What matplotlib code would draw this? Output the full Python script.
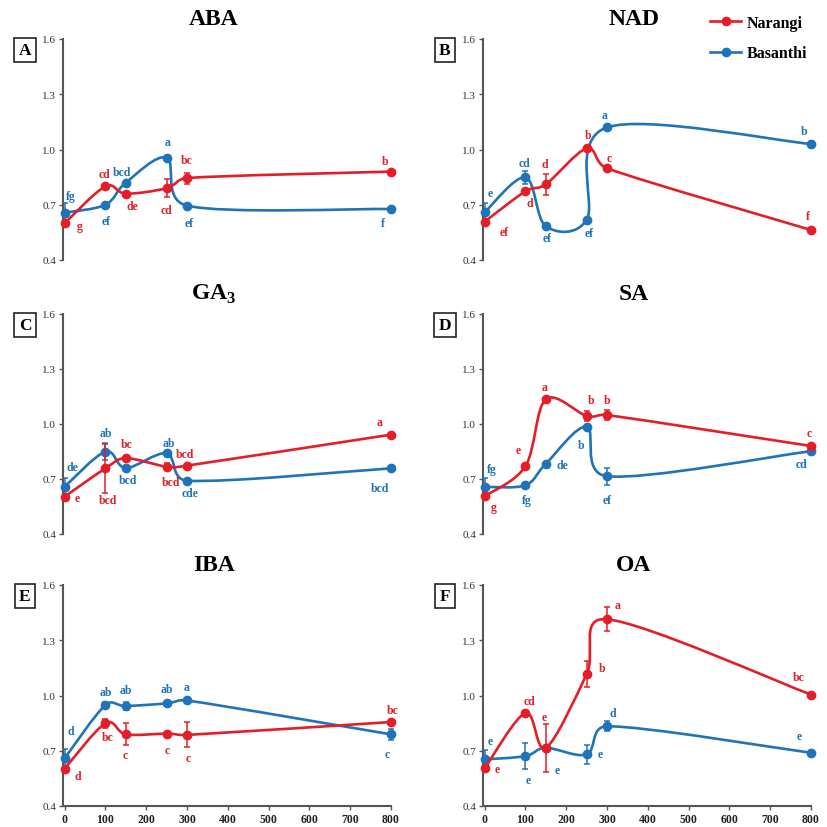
import numpy as np
import matplotlib
matplotlib.use("Agg")
from matplotlib import pyplot as plt
from matplotlib.path import Path
from matplotlib.patches import PathPatch
from matplotlib.lines import Line2D

plt.rcParams['font.family'] = ['Liberation Serif', 'DejaVu Serif']
plt.rcParams['mathtext.fontset'] = 'custom'
plt.rcParams['mathtext.rm'] = 'Liberation Serif'
plt.rcParams['mathtext.bf'] = 'Liberation Serif:bold'

# concentrations on the x axis
conc = [0, 100, 150, 250, 300, 800]
titles = ['ABA', 'NAD', r'GA$_\mathbf{3}$', 'SA', 'IBA', 'OA']
panel_tags = ['A', 'B', 'C', 'D', 'E', 'F']

aba_nar = [0.600, 0.800, 0.760, 0.790, 0.845, 0.880]
aba_bas = [0.657, 0.700, 0.820, 0.956, 0.695, 0.677]
aba_nar_err = [0, 0, 0, 0.05, 0.03, 0]
aba_bas_err = [0.05, 0, 0, 0, 0, 0]
aba_nar_let = ['g', 'cd', 'de', 'cd', 'bc', 'b']
aba_bas_let = ['fg', 'ef', 'bcd', 'a', 'ef', 'f']

nad_nar = [0.608, 0.773, 0.811, 1.006, 0.898, 0.563]
nad_bas = [0.659, 0.849, 0.583, 0.619, 1.120, 1.030]
nad_nar_err = [0, 0, 0.056, 0, 0, 0]
nad_bas_err = [0.05, 0.035, 0, 0, 0, 0]
nad_nar_let = ['ef', 'd', 'd', 'b', 'c', 'f']
nad_bas_let = ['e', 'cd', 'ef', 'ef', 'a', 'b']

ga3_nar = [0.604, 0.758, 0.813, 0.767, 0.773, 0.942]
ga3_bas = [0.658, 0.849, 0.760, 0.840, 0.691, 0.758]
ga3_nar_err = [0, 0.133, 0, 0.02, 0, 0]
ga3_bas_err = [0.05, 0.047, 0, 0, 0, 0]
ga3_nar_let = ['e', 'bcd', 'bc', 'bcd', 'bcd', 'a']
ga3_bas_let = ['de', 'ab', 'bcd', 'ab', 'cde', 'bcd']

sa_nar = [0.606, 0.770, 1.135, 1.044, 1.049, 0.880]
sa_bas = [0.657, 0.666, 0.783, 0.985, 0.715, 0.852]
sa_nar_err = [0, 0, 0.015, 0.025, 0.025, 0]
sa_bas_err = [0.05, 0, 0, 0, 0.047, 0]
sa_nar_let = ['g', 'e', 'a', 'b', 'b', 'c']
sa_bas_let = ['fg', 'fg', 'de', 'b', 'ef', 'cd']

iba_nar = [0.603, 0.849, 0.789, 0.793, 0.786, 0.856]
iba_bas = [0.659, 0.948, 0.943, 0.957, 0.973, 0.789]
iba_nar_err = [0, 0.025, 0.06, 0, 0.068, 0]
iba_bas_err = [0.05, 0.015, 0.02, 0.015, 0, 0.03]
iba_nar_let = ['d', 'bc', 'c', 'c', 'c', 'bc']
iba_bas_let = ['d', 'ab', 'ab', 'ab', 'a', 'c']

oa_nar = [0.604, 0.905, 0.716, 1.116, 1.414, 1.005]
oa_bas = [0.653, 0.671, 0.716, 0.680, 0.833, 0.689]
oa_nar_err = [0, 0, 0.13, 0.069, 0.065, 0]
oa_bas_err = [0.05, 0.072, 0, 0.05, 0.028, 0]
oa_nar_let = ['e', 'cd', 'e', 'b', 'a', 'bc']
oa_bas_let = ['e', 'e', 'e', 'e', 'd', 'e']

nar_series = [aba_nar, nad_nar, ga3_nar, sa_nar, iba_nar, oa_nar]
bas_series = [aba_bas, nad_bas, ga3_bas, sa_bas, iba_bas, oa_bas]
nar_errs = [aba_nar_err, nad_nar_err, ga3_nar_err, sa_nar_err, iba_nar_err, oa_nar_err]
bas_errs = [aba_bas_err, nad_bas_err, ga3_bas_err, sa_bas_err, iba_bas_err, oa_bas_err]
nar_lets = [aba_nar_let, nad_nar_let, ga3_nar_let, sa_nar_let, iba_nar_let, oa_nar_let]
bas_lets = [aba_bas_let, nad_bas_let, ga3_bas_let, sa_bas_let, iba_bas_let, oa_bas_let]

# letter offsets from each point, in pixels (dx, dy)
nar_offs = [
    [(15, -3), (-1, 12), (7, -12), (0, -22), (0, 18), (-6, 11)],
    [(19, -10), (4, -12), (-1, 20), (1, 13), (2, 10), (-3, 14)],
    [(13, -1), (3, -32), (1, 14), (4, -15), (-2, 12), (-11, 13)],
    [(9, -11), (-7, 16), (-1, 12), (4, 16), (0, 15), (-2, 13)],
    [(13, -7), (2, -14), (-1, -21), (1, -16), (1, -23), (2, 12)],
    [(13, -1), (4, 12), (-2, 31), (15, 6), (11, 14), (-12, 18)],
]
bas_offs = [
    [(6, 17), (1, -16), (-4, 11), (1, 16), (2, -17), (-8, -14)],
    [(6, 19), (-1, 14), (1, -12), (3, -13), (-2, 12), (-7, 13)],
    [(8, 20), (0, 19), (2, -12), (2, 10), (3, -12), (-11, -20)],
    [(7, 18), (1, -15), (17, -1), (-6, -18), (0, -24), (-9, -13)],
    [(6, 27), (0, 13), (0, 16), (0, 14), (0, 13), (-4, -20)],
    [(6, 18), (3, -24), (11, -22), (14, 0), (6, 13), (-12, 17)],
]

RED = '#E41E28'
BLUE = '#1F73B8'
AXC = '#555555'


def smooth_path(ax, xs, ys):
    # Excel-like smoothed line, built in display space then mapped back
    pts = ax.transData.transform(np.column_stack([xs, ys]))
    n = len(pts)
    verts = [pts[0]]
    codes = [Path.MOVETO]
    for i in range(n - 1):
        p0 = pts[i - 1] if i > 0 else pts[i]
        p1, p2 = pts[i], pts[i + 1]
        p3 = pts[i + 2] if i + 2 < n else pts[i + 1]
        d12 = np.hypot(*(p2 - p1))
        d02 = np.hypot(*(p2 - p0))
        d13 = np.hypot(*(p3 - p1))
        f1 = 1 / 6 if d02 / 6 < d12 / 2 else d12 / (2 * d02)
        f2 = 1 / 6 if d13 / 6 < d12 / 2 else d12 / (2 * d13)
        c1 = p1 + (p2 - p0) * f1
        c2 = p2 - (p3 - p1) * f2
        verts += [c1, c2, p2]
        codes += [Path.CURVE4] * 3
    verts = ax.transData.inverted().transform(np.array(verts))
    return Path(verts, codes)


fig = plt.figure(figsize=(8.28, 8.28), dpi=100)
W = 828.0
lefts = [63, 483]
rows = [(40, 261), (315, 535), (586, 807)]

for k in range(6):
    r, c = divmod(k, 2)
    top, bot = rows[r]
    ax = fig.add_axes([lefts[c] / W, 1 - bot / W, 328 / W, (bot - top) / W])
    ax.set_xlim(-4, 800)
    ax.set_ylim(0.4, 1.6)
    for s in ['top', 'right']:
        ax.spines[s].set_visible(False)
    ax.spines['left'].set_color(AXC)
    ax.spines['left'].set_linewidth(1.5)
    ax.set_yticks([0.4, 0.7, 1.0, 1.3, 1.6])
    ax.set_yticklabels(['0.4', '0.7', '1.0', '1.3', '1.6'], fontsize=8, color='#333333')
    ax.tick_params(axis='y', length=3, width=1, color=AXC, pad=2)
    if r < 2:
        ax.spines['bottom'].set_visible(False)
        ax.set_xticks([])
    else:
        ax.spines['bottom'].set_color(AXC)
        ax.spines['bottom'].set_linewidth(1.5)
        ax.set_xticks(range(0, 801, 100))
        ax.set_xticklabels([str(v) for v in range(0, 801, 100)], fontsize=8.5,
                           fontweight='bold', color='#222222')
        ax.tick_params(axis='x', length=3, width=1, color=AXC, pad=2)

    ax.text(0.46, 1.095, titles[k], transform=ax.transAxes, ha='center', va='center',
            fontsize=17, fontweight='bold')
    ax.text(-0.116, 0.95, panel_tags[k], transform=ax.transAxes, ha='center', va='center',
            fontsize=12.5, fontweight='bold',
            bbox=dict(boxstyle='square,pad=0.25', fc='white', ec='#222222', lw=1.2))

    for ys, err, lets, offs, col, z in [
            (bas_series[k], bas_errs[k], bas_lets[k], bas_offs[k], BLUE, 3),
            (nar_series[k], nar_errs[k], nar_lets[k], nar_offs[k], RED, 4)]:
        patch = PathPatch(smooth_path(ax, conc, ys), fill=False, edgecolor=col,
                          lw=1.9, zorder=z, clip_on=False, capstyle='round')
        ax.add_patch(patch)
        ax.plot(conc, ys, 'o', color=col, ms=6, zorder=z + 0.5, clip_on=False)
        ex = [x for x, e in zip(conc, err) if e > 0]
        ey = [y for y, e in zip(ys, err) if e > 0]
        ee = [e for e in err if e > 0]
        if ee:
            ax.errorbar(ex, ey, yerr=ee, fmt='none', ecolor=col, elinewidth=1.1,
                        capsize=2.5, capthick=1.1, zorder=z, clip_on=False)
        for x, y, t, (dx, dy) in zip(conc, ys, lets, offs):
            ax.annotate(t, (x, y), xytext=(dx, dy), textcoords='offset pixels',
                        ha='center', va='center', color=col, fontsize=8.5,
                        fontweight='bold', zorder=6, annotation_clip=False)

handles = [Line2D([], [], color=RED, lw=1.9, marker='o', ms=6),
           Line2D([], [], color=BLUE, lw=1.9, marker='o', ms=6)]
fig.legend(handles, ['Narangi', 'Basanthi'], loc='center left',
           bbox_to_anchor=(696 / W, 1 - 39 / W), frameon=False,
           prop=dict(family='Liberation Serif', weight='bold', size=11.5),
           handlelength=1.9, handletextpad=0.35, labelspacing=0.9)

fig.savefig('out.png', dpi=100)
